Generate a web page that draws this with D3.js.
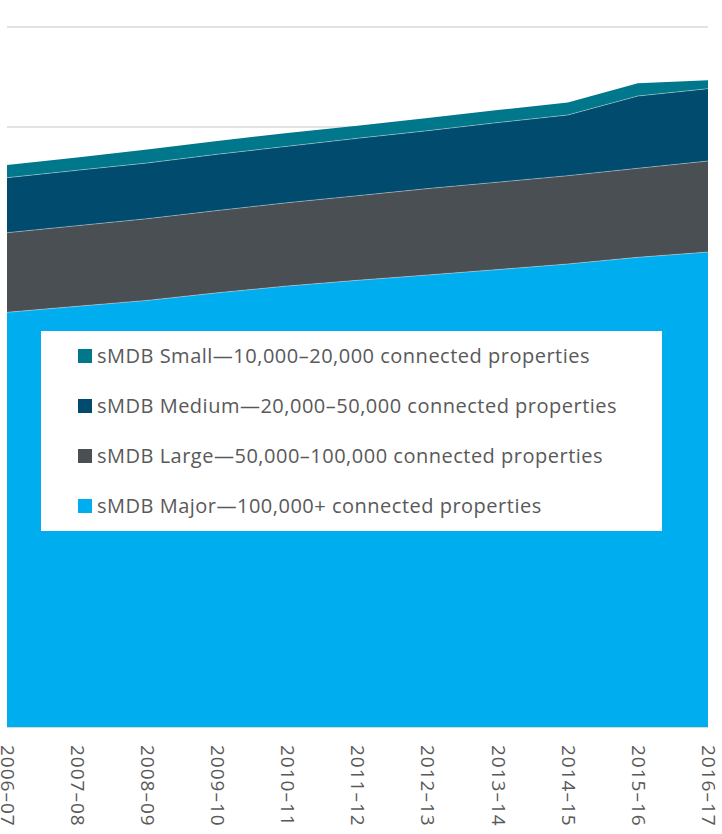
<!DOCTYPE html>
<html>
<head>
<meta charset="utf-8">
<script src="https://cdn.jsdelivr.net/npm/d3@7"></script>
<style>
  html, body { margin: 0; padding: 0; background: #ffffff; }
  svg { display: block; }
</style>
</head>
<body>
<div id="chart"></div>
<script>
// Financial years along the x axis
const years = ["2006–07", "2007–08", "2008–09", "2009–10", "2010–11", "2011–12",
               "2012–13", "2013–14", "2014–15", "2015–16", "2016–17"];

// Stacked series (thousands), bottom to top
const major  = [4147, 4207, 4266, 4342, 4410, 4467, 4520, 4574, 4630, 4697, 4750];
const large  = [796, 806, 817, 823, 833, 846, 864, 874, 883, 890, 910];
const medium = [550, 554, 557, 562, 564, 574, 579, 596, 607, 723, 723];
const small  = [127, 128, 135, 133, 133, 126, 127, 126, 125, 127, 84];

// Gridline values
const yTicks = [1000, 2000, 3000, 4000, 5000, 6000, 7000];

const seriesKeys   = ["major", "large", "medium", "small"];
const seriesLabels = {
  small:  "sMDB Small—10,000–20,000 connected properties",
  medium: "sMDB Medium—20,000–50,000 connected properties",
  large:  "sMDB Large—50,000–100,000 connected properties",
  major:  "sMDB Major—100,000+ connected properties"
};
const colors = {
  small:  "#00778B",
  medium: "#004B6E",
  large:  "#4A4F54",
  major:  "#00AEEF"
};
const legendOrder = ["small", "medium", "large", "major"];

const W = 722, H = 834;
const margin = { left: 7, right: 14, top: 27, bottom: 107 };
const font = "'Open Sans', Lato, sans-serif";

const table = years.map((y, i) => ({
  year: y, major: major[i], large: large[i], medium: medium[i], small: small[i]
}));

const svg = d3.select("#chart").append("svg")
  .attr("width", W).attr("height", H);

const x = d3.scalePoint()
  .domain(years)
  .range([margin.left, W - margin.right]);

const y = d3.scaleLinear()
  .domain([0, 7000])
  .range([H - margin.bottom, margin.top]);

// Gridlines
svg.append("g")
  .selectAll("line")
  .data(yTicks)
  .join("line")
  .attr("x1", margin.left)
  .attr("x2", W - margin.right)
  .attr("y1", d => y(d))
  .attr("y2", d => y(d))
  .attr("stroke", "#D9D9D9")
  .attr("stroke-width", 1.5);

// Stacked areas
const stack = d3.stack().keys(seriesKeys);
const layers = stack(table);

const area = d3.area()
  .x(d => x(d.data.year))
  .y0(d => y(d[0]))
  .y1(d => y(d[1]));

svg.append("g")
  .selectAll("path")
  .data(layers)
  .join("path")
  .attr("d", area)
  .attr("fill", d => colors[d.key]);

// Thin light separators along each layer top
const topLine = d3.line()
  .x(d => x(d.data.year))
  .y(d => y(d[1]));

svg.append("g")
  .selectAll("path")
  .data(layers.slice(0, 3))
  .join("path")
  .attr("d", topLine)
  .attr("fill", "none")
  .attr("stroke", "#ffffff")
  .attr("stroke-opacity", 0.45)
  .attr("stroke-width", 0.8);

// Baseline
svg.append("line")
  .attr("x1", margin.left)
  .attr("x2", W - margin.right)
  .attr("y1", y(0) + 0.5)
  .attr("y2", y(0) + 0.5)
  .attr("stroke", "#D9D9D9")
  .attr("stroke-width", 1);

// X axis labels, rotated to read top to bottom
const xAxis = d3.axisBottom(x).tickSize(0).tickPadding(0);
const gx = svg.append("g")
  .attr("transform", `translate(0,${y(0)})`)
  .call(xAxis);
gx.select(".domain").remove();
gx.selectAll("text")
  .attr("transform", "translate(0,18) rotate(90)")
  .attr("x", 0)
  .attr("y", 0)
  .attr("dy", "0.35em")
  .attr("text-anchor", "start")
  .attr("fill", "#595959")
  .style("font-family", font)
  .style("font-size", "19px")
  .style("letter-spacing", "1px");

// Legend
const legend = svg.append("g");
legend.append("rect")
  .attr("x", 41).attr("y", 331)
  .attr("width", 621).attr("height", 200)
  .attr("fill", "#ffffff");

const rows = legend.selectAll("g.row")
  .data(legendOrder)
  .join("g")
  .attr("class", "row")
  .attr("transform", (d, i) => `translate(78,${356 + i * 50})`);

rows.append("rect")
  .attr("x", 0).attr("y", -7)
  .attr("width", 14).attr("height", 14)
  .attr("fill", d => colors[d]);

rows.append("text")
  .attr("x", 19)
  .attr("y", 0)
  .attr("dy", "0.35em")
  .attr("fill", "#595959")
  .style("font-family", font)
  .style("font-size", "20px")
  .style("letter-spacing", "0.5px")
  .text(d => seriesLabels[d]);
</script>
</body>
</html>
